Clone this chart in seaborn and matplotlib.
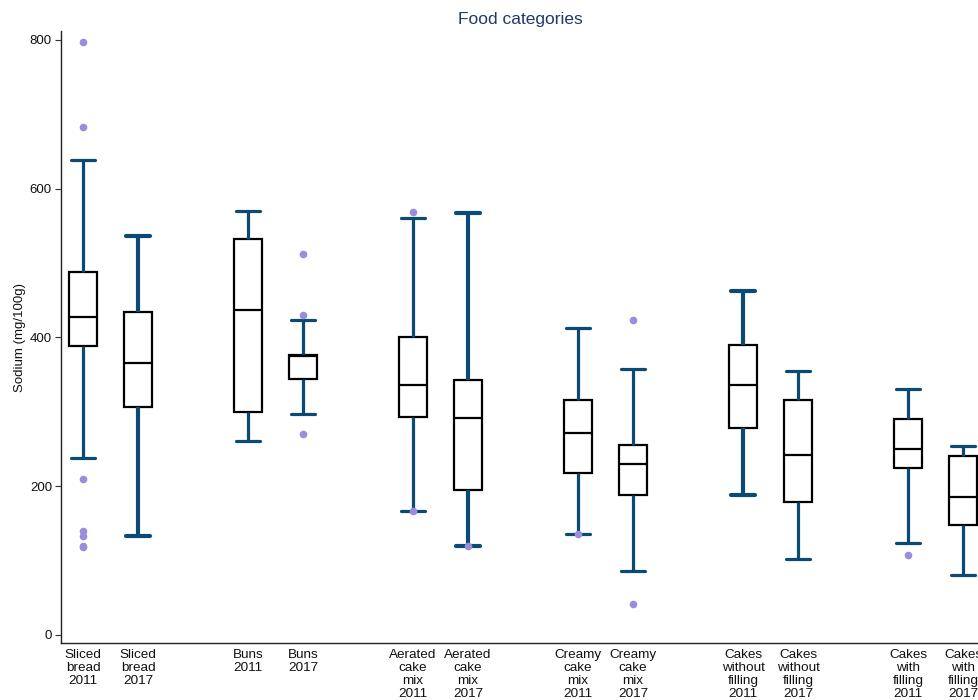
import matplotlib
matplotlib.use("Agg")
import matplotlib.pyplot as plt
import matplotlib.colors as mcolors
import numpy as np
import seaborn as sns
import pandas as pd

# Box order along the axis; blank names leave a gap between food groups
categories = [
    "Sliced\nbread\n2011", "Sliced\nbread\n2017", " ",
    "Buns\n2011", "Buns\n2017", "  ",
    "Aerated\ncake\nmix\n2011", "Aerated\ncake\nmix\n2017", "   ",
    "Creamy\ncake\nmix\n2011", "Creamy\ncake\nmix\n2017", "    ",
    "Cakes\nwithout\nfilling\n2011", "Cakes\nwithout\nfilling\n2017", "     ",
    "Cakes\nwith\nfilling\n2011", "Cakes\nwith\nfilling\n2017",
]
groups = [c for c in categories if c.strip()]

# Five-number summaries (mg sodium / 100 g)
whisker_low = [238, 133, 260, 297, 167, 120, 135, 86, 188, 102, 124, 80]
q1 = [389, 307, 300, 344, 293, 195, 218, 188, 278, 178, 224, 148]
median = [427, 366, 437, 375, 336, 292, 271, 230, 336, 242, 250, 186]
q3 = [488, 434, 532, 376, 401, 343, 316, 255, 390, 316, 290, 240]
whisker_high = [638, 536, 570, 424, 561, 567, 413, 357, 462, 355, 330, 254]

# Points outside the whiskers
outliers = [
    [797, 683, 210, 140, 133, 120, 118],
    [],
    [],
    [512, 430, 270],
    [569, 167],
    [120],
    [136],
    [424, 41],
    [],
    [],
    [107],
    [],
]

# Groups whose whiskers are drawn with a heavier stroke
heavy_whiskers = ["Sliced\nbread\n2017", "Aerated\ncake\nmix\n2017",
                  "Cakes\nwithout\nfilling\n2011"]

box_rows = []
for g, lo, a, m, b, hi in zip(groups, whisker_low, q1, median, q3, whisker_high):
    for v in (lo, a, m, b, hi):
        box_rows.append({"group": g, "sodium": v})
box_df = pd.DataFrame(box_rows)

out_df = pd.DataFrame(
    [{"group": g, "sodium": v} for g, vals in zip(groups, outliers) for v in vals]
)

sns.set_theme(style="ticks")
plt.rcParams["font.family"] = ["Liberation Sans", "DejaVu Sans"]

whisker_color = "#0b4a75"
outlier_color = "#9a8ddb"

fig = plt.figure(figsize=(9.79, 7.0), dpi=100)
ax = fig.add_axes([0.0623, 0.0814, 0.9377, 0.8743])

sns.boxplot(
    data=box_df, x="group", y="sodium", order=categories,
    whis=(0, 100), width=0.5, showfliers=False, ax=ax,
    color="white", linecolor="black", linewidth=1.6,
    boxprops=dict(facecolor="white", edgecolor="black", linewidth=1.6),
    medianprops=dict(color="black", linewidth=1.6),
    whiskerprops=dict(color=whisker_color, linewidth=2.3),
    capprops=dict(color=whisker_color, linewidth=2.3),
    capwidths=0.44,
)

# Thicker whisker strokes for selected groups
heavy_pos = [categories.index(g) for g in heavy_whiskers]
wc = mcolors.to_rgba(whisker_color)
for line in ax.lines:
    if mcolors.to_rgba(line.get_color()) != wc:
        continue
    xc = float(np.mean(line.get_xdata()))
    if any(abs(xc - p) < 0.01 for p in heavy_pos):
        line.set_linewidth(3.0)

sns.stripplot(
    data=out_df, x="group", y="sodium", order=categories,
    jitter=False, color=outlier_color, size=5.5, linewidth=0, ax=ax, zorder=5,
)

ax.set_xlim(-0.4, 16.29)
ax.set_ylim(-11, 812)
ax.set_yticks([0, 200, 400, 600, 800])
ax.set_xlabel("")
ax.set_ylabel("Sodium (mg/100g)", fontsize=9.5, color="#111111", labelpad=3)
ax.set_title("Food categories", fontsize=12.5, color="#1f3a6b", pad=5)

ax.tick_params(axis="x", length=0, pad=4.5, labelsize=9.7, labelcolor="#111111")
ax.tick_params(axis="y", length=4.5, width=0.8, pad=2, labelsize=9.5,
               labelcolor="#111111", color="#333333")
for lbl in ax.get_xticklabels():
    lbl.set_linespacing(1.1)

sns.despine(ax=ax)
for side in ("left", "bottom"):
    ax.spines[side].set_color("#222222")
    ax.spines[side].set_linewidth(1.0)

fig.savefig("out.png", dpi=100)
